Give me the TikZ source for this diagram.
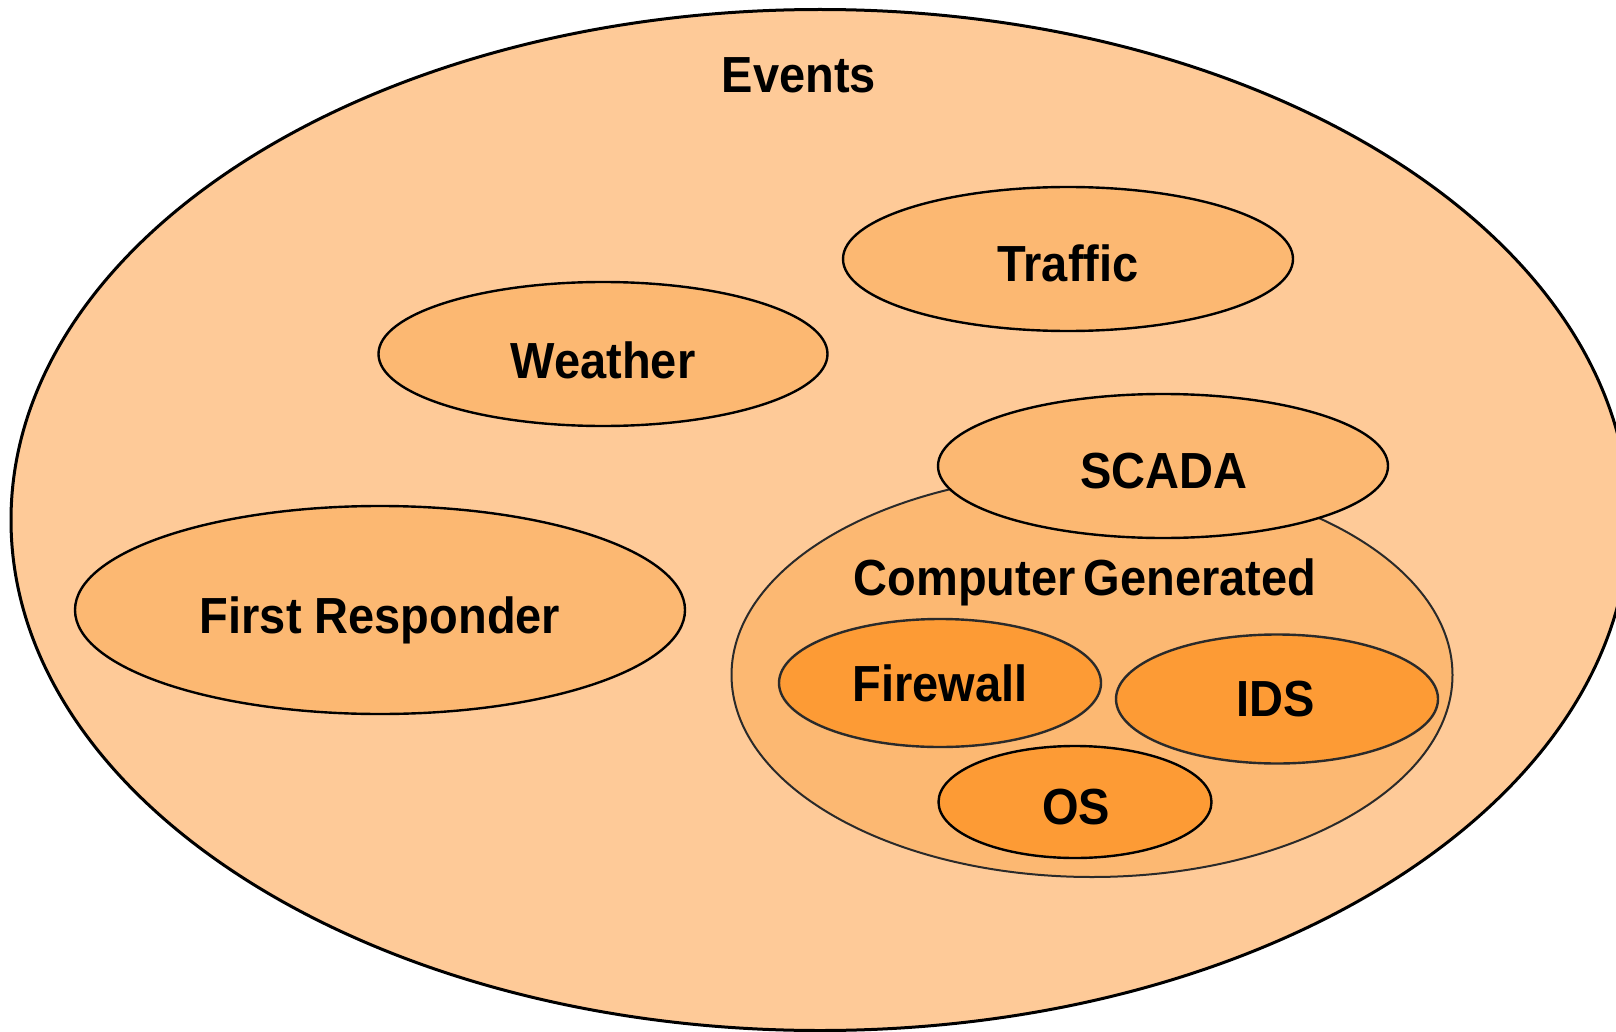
\documentclass[tikz,border=0pt]{standalone}
\usepackage{fontspec}
\setmainfont{Liberation Sans}
\usepackage{graphicx}
\usetikzlibrary{shapes.geometric}
\definecolor{outerfill}{HTML}{FECA98}
\definecolor{midfill}{HTML}{FCB872}
\definecolor{darkfill}{HTML}{FD9B35}
\definecolor{softline}{HTML}{2A2A2A}
\newcommand{\tallt}[1]{\scalebox{1}[1.08]{#1}}
\begin{document}
\begin{tikzpicture}[x=1pt,y=-1pt,
  blob/.style={ellipse, inner sep=0pt, outer sep=0pt, draw=black, line width=2.4pt},
  lbl/.style={anchor=base, inner sep=0pt, font=\fontsize{47}{56}\selectfont\bfseries}]
\useasboundingbox (0,0) rectangle (1616,1032);
\clip (0,0) rectangle (1616,1032);
% outer set
\node[blob, fill=outerfill, line width=3pt, minimum width=1618pt, minimum height=1021pt] (events) at (820,520) {};
\node[lbl] (eventslbl) at (799,93) {\tallt{Events}};
% first level sets
\node[blob, fill=midfill, minimum width=450pt, minimum height=144pt] (traffic) at (1068,259) {};
\node[lbl] (trafficlbl) at (1068,281) {\tallt{Traffic}};
\node[blob, fill=midfill, minimum width=449pt, minimum height=144pt] (weather) at (603,354) {};
\node[lbl] (weatherlbl) at (603,378) {\tallt{Weather}};
\node[blob, fill=midfill, minimum width=610pt, minimum height=208pt] (first) at (380,610) {};
\node[lbl] (firstlbl) at (380,633) {\tallt{First Responder}};
\node[blob, fill=midfill, draw=softline, line width=2pt, minimum width=721pt, minimum height=404pt] (comp) at (1092,675) {};
\node[lbl] (complbl) at (1085,595) {\tallt{Computer\hspace{-0.1em} Generated}};
\node[blob, fill=midfill, minimum width=450pt, minimum height=144pt] (scada) at (1163,466) {};
\node[lbl] (scadalbl) at (1164,488) {\tallt{SCADA}};
% second level sets
\node[blob, fill=darkfill, draw=softline, minimum width=322pt, minimum height=128pt] (firewall) at (940,683) {};
\node[lbl] (firewalllbl) at (940,701) {\tallt{Firewall}};
\node[blob, fill=darkfill, draw=softline, minimum width=322pt, minimum height=129pt] (ids) at (1277,699) {};
\node[lbl] (idslbl) at (1276,716) {\tallt{IDS}};
\node[blob, fill=darkfill, minimum width=273pt, minimum height=112pt] (os) at (1075,802) {};
\node[lbl] (oslbl) at (1076,824) {\tallt{OS}};
\end{tikzpicture}
\end{document}
